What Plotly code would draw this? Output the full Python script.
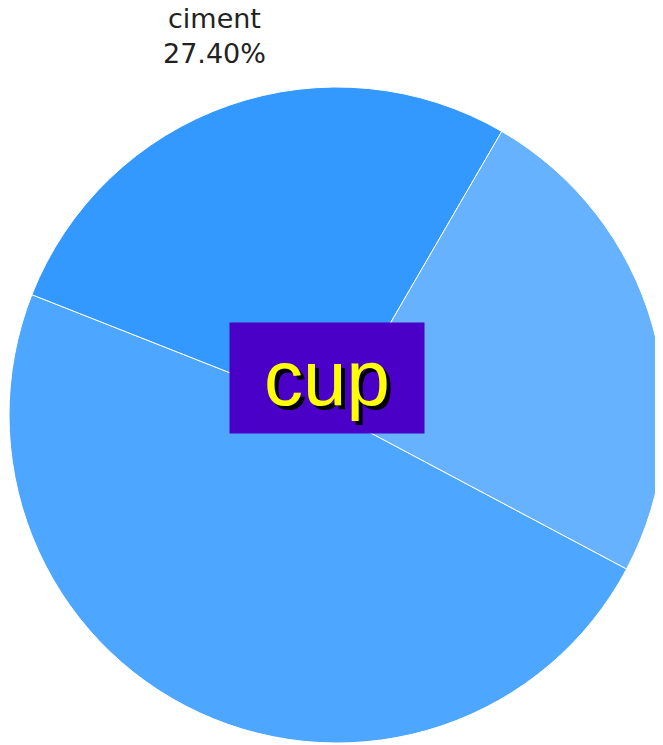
import plotly.graph_objects as go

labels = ["sable", "ciment", "gravier"]
values = [48.2, 27.4, 24.4]
colors = ["#4DA6FF", "#3399FF", "#66B2FF"]
shown_label = "ciment"
center_text = "cup"

i = labels.index(shown_label)
label_text = f"{labels[i]}<br>{values[i] / sum(values):.2%}"

fig = go.Figure(go.Pie(
    labels=labels,
    values=values,
    sort=False,
    direction="clockwise",
    rotation=118,
    marker=dict(colors=colors, line=dict(color="white", width=1)),
    textinfo="none",
    showlegend=False,
    hoverinfo="label+percent",
))

fig.update_layout(
    width=663, height=745,
    margin=dict(l=1, r=6, t=79, b=10),
    paper_bgcolor="white",
    plot_bgcolor="white",
    annotations=[
        dict(
            text=center_text, x=0.4848, y=0.5564, xref="paper", yref="paper",
            xanchor="center", yanchor="middle",
            showarrow=False, bgcolor="#4B00C8", width=194, height=110, borderpad=0,
            font=dict(family="Liberation Sans, Arial", size=78, color="#FFFF00",
                      shadow="4px 4px 0px #000000"),
        ),
        dict(
            text=label_text, x=0.314, y=1.0777, xref="paper", yref="paper",
            xanchor="center", yanchor="middle", showarrow=False,
            font=dict(family="DejaVu Sans", size=27, color="#222"),
        ),
    ],
)

fig.write_html("out.html")
